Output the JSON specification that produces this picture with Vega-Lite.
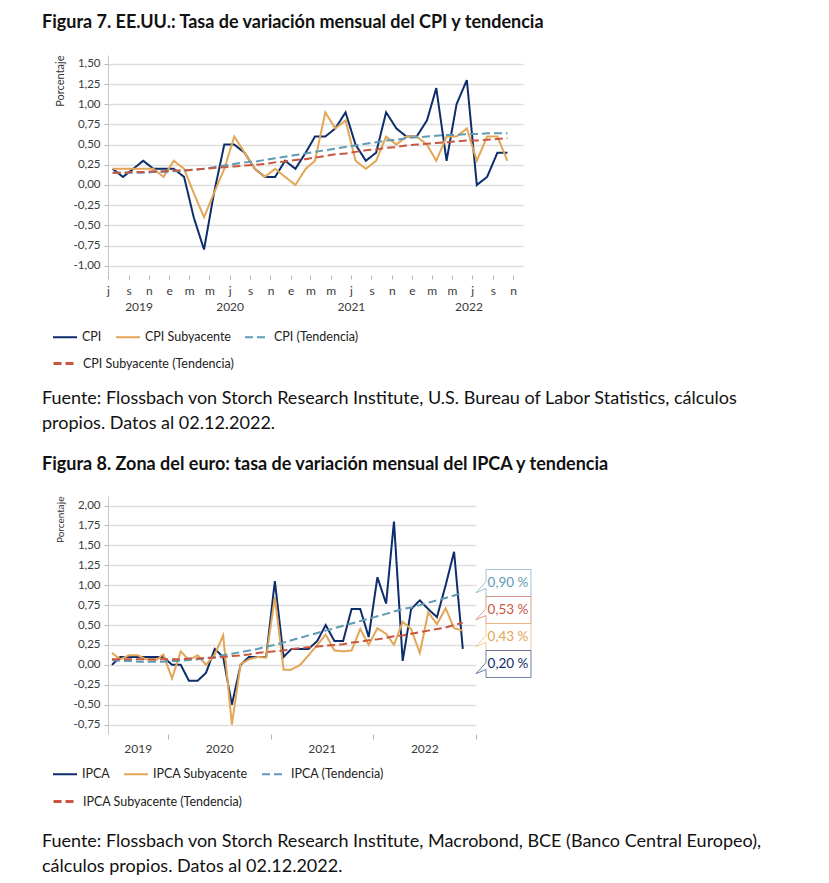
{
  "$schema": "https://vega.github.io/schema/vega-lite/v6.json",
  "background": "white",
  "padding": {"left": 42, "top": 14, "right": 5, "bottom": 5},
  "config": {
    "font": "Lato",
    "view": {"stroke": null},
    "axis": {"labelFont": "Lato", "labelFontSize": 11.5, "labelColor": "#3a3a3a", "tickColor": "#b5b5b5", "domainColor": "#c8c8c8", "gridColor": "#dedede", "gridWidth": 1.4, "titleFont": "Lato", "titleFontWeight": "normal", "titleFontSize": 11, "titleColor": "#333"},
    "legend": {"labelFont": "Lato", "labelFontSize": 12.5, "labelColor": "#222", "title": null, "orient": "none", "direction": "horizontal", "symbolType": "stroke", "symbolSize": 576, "columnPadding": 10, "labelOffset": 4, "symbolOpacity": 1},
    "title": {"font": "Lato"}
  },
  "datasets": {
    "us": [
      {"fecha": "2019-07-15", "CPI": 0.2, "CPI Subyacente": 0.2, "CPI (Tendencia)": 0.15, "CPI Subyacente (Tendencia)": 0.15},
      {"fecha": "2019-08-15", "CPI": 0.1, "CPI Subyacente": 0.2, "CPI (Tendencia)": 0.15, "CPI Subyacente (Tendencia)": 0.15},
      {"fecha": "2019-09-15", "CPI": 0.2, "CPI Subyacente": 0.2, "CPI (Tendencia)": 0.15, "CPI Subyacente (Tendencia)": 0.16},
      {"fecha": "2019-10-15", "CPI": 0.3, "CPI Subyacente": 0.2, "CPI (Tendencia)": 0.15, "CPI Subyacente (Tendencia)": 0.16},
      {"fecha": "2019-11-15", "CPI": 0.2, "CPI Subyacente": 0.2, "CPI (Tendencia)": 0.16, "CPI Subyacente (Tendencia)": 0.17},
      {"fecha": "2019-12-15", "CPI": 0.2, "CPI Subyacente": 0.1, "CPI (Tendencia)": 0.16, "CPI Subyacente (Tendencia)": 0.17},
      {"fecha": "2020-01-15", "CPI": 0.2, "CPI Subyacente": 0.3, "CPI (Tendencia)": 0.17, "CPI Subyacente (Tendencia)": 0.18},
      {"fecha": "2020-02-15", "CPI": 0.1, "CPI Subyacente": 0.2, "CPI (Tendencia)": 0.18, "CPI Subyacente (Tendencia)": 0.18},
      {"fecha": "2020-03-15", "CPI": -0.4, "CPI Subyacente": -0.1, "CPI (Tendencia)": 0.19, "CPI Subyacente (Tendencia)": 0.19},
      {"fecha": "2020-04-15", "CPI": -0.8, "CPI Subyacente": -0.4, "CPI (Tendencia)": 0.2, "CPI Subyacente (Tendencia)": 0.2},
      {"fecha": "2020-05-15", "CPI": -0.1, "CPI Subyacente": -0.1, "CPI (Tendencia)": 0.22, "CPI Subyacente (Tendencia)": 0.21},
      {"fecha": "2020-06-15", "CPI": 0.5, "CPI Subyacente": 0.2, "CPI (Tendencia)": 0.24, "CPI Subyacente (Tendencia)": 0.22},
      {"fecha": "2020-07-15", "CPI": 0.5, "CPI Subyacente": 0.6, "CPI (Tendencia)": 0.26, "CPI Subyacente (Tendencia)": 0.23},
      {"fecha": "2020-08-15", "CPI": 0.4, "CPI Subyacente": 0.4, "CPI (Tendencia)": 0.28, "CPI Subyacente (Tendencia)": 0.24},
      {"fecha": "2020-09-15", "CPI": 0.2, "CPI Subyacente": 0.2, "CPI (Tendencia)": 0.29, "CPI Subyacente (Tendencia)": 0.25},
      {"fecha": "2020-10-15", "CPI": 0.1, "CPI Subyacente": 0.1, "CPI (Tendencia)": 0.31, "CPI Subyacente (Tendencia)": 0.26},
      {"fecha": "2020-11-15", "CPI": 0.1, "CPI Subyacente": 0.2, "CPI (Tendencia)": 0.33, "CPI Subyacente (Tendencia)": 0.28},
      {"fecha": "2020-12-15", "CPI": 0.3, "CPI Subyacente": 0.1, "CPI (Tendencia)": 0.35, "CPI Subyacente (Tendencia)": 0.29},
      {"fecha": "2021-01-15", "CPI": 0.2, "CPI Subyacente": 0.0, "CPI (Tendencia)": 0.37, "CPI Subyacente (Tendencia)": 0.31},
      {"fecha": "2021-02-15", "CPI": 0.4, "CPI Subyacente": 0.2, "CPI (Tendencia)": 0.39, "CPI Subyacente (Tendencia)": 0.32},
      {"fecha": "2021-03-15", "CPI": 0.6, "CPI Subyacente": 0.3, "CPI (Tendencia)": 0.41, "CPI Subyacente (Tendencia)": 0.34},
      {"fecha": "2021-04-15", "CPI": 0.6, "CPI Subyacente": 0.9, "CPI (Tendencia)": 0.43, "CPI Subyacente (Tendencia)": 0.36},
      {"fecha": "2021-05-15", "CPI": 0.7, "CPI Subyacente": 0.7, "CPI (Tendencia)": 0.45, "CPI Subyacente (Tendencia)": 0.38},
      {"fecha": "2021-06-15", "CPI": 0.9, "CPI Subyacente": 0.8, "CPI (Tendencia)": 0.47, "CPI Subyacente (Tendencia)": 0.39},
      {"fecha": "2021-07-15", "CPI": 0.5, "CPI Subyacente": 0.3, "CPI (Tendencia)": 0.49, "CPI Subyacente (Tendencia)": 0.41},
      {"fecha": "2021-08-15", "CPI": 0.3, "CPI Subyacente": 0.2, "CPI (Tendencia)": 0.51, "CPI Subyacente (Tendencia)": 0.43},
      {"fecha": "2021-09-15", "CPI": 0.4, "CPI Subyacente": 0.3, "CPI (Tendencia)": 0.53, "CPI Subyacente (Tendencia)": 0.44},
      {"fecha": "2021-10-15", "CPI": 0.9, "CPI Subyacente": 0.6, "CPI (Tendencia)": 0.55, "CPI Subyacente (Tendencia)": 0.46},
      {"fecha": "2021-11-15", "CPI": 0.7, "CPI Subyacente": 0.5, "CPI (Tendencia)": 0.56, "CPI Subyacente (Tendencia)": 0.47},
      {"fecha": "2021-12-15", "CPI": 0.6, "CPI Subyacente": 0.6, "CPI (Tendencia)": 0.58, "CPI Subyacente (Tendencia)": 0.49},
      {"fecha": "2022-01-15", "CPI": 0.6, "CPI Subyacente": 0.6, "CPI (Tendencia)": 0.59, "CPI Subyacente (Tendencia)": 0.5},
      {"fecha": "2022-02-15", "CPI": 0.8, "CPI Subyacente": 0.5, "CPI (Tendencia)": 0.6, "CPI Subyacente (Tendencia)": 0.51},
      {"fecha": "2022-03-15", "CPI": 1.2, "CPI Subyacente": 0.3, "CPI (Tendencia)": 0.61, "CPI Subyacente (Tendencia)": 0.52},
      {"fecha": "2022-04-15", "CPI": 0.3, "CPI Subyacente": 0.6, "CPI (Tendencia)": 0.62, "CPI Subyacente (Tendencia)": 0.53},
      {"fecha": "2022-05-15", "CPI": 1.0, "CPI Subyacente": 0.6, "CPI (Tendencia)": 0.62, "CPI Subyacente (Tendencia)": 0.54},
      {"fecha": "2022-06-15", "CPI": 1.3, "CPI Subyacente": 0.7, "CPI (Tendencia)": 0.63, "CPI Subyacente (Tendencia)": 0.55},
      {"fecha": "2022-07-15", "CPI": 0.0, "CPI Subyacente": 0.3, "CPI (Tendencia)": 0.63, "CPI Subyacente (Tendencia)": 0.55},
      {"fecha": "2022-08-15", "CPI": 0.1, "CPI Subyacente": 0.6, "CPI (Tendencia)": 0.64, "CPI Subyacente (Tendencia)": 0.56},
      {"fecha": "2022-09-15", "CPI": 0.4, "CPI Subyacente": 0.6, "CPI (Tendencia)": 0.64, "CPI Subyacente (Tendencia)": 0.57},
      {"fecha": "2022-10-15", "CPI": 0.4, "CPI Subyacente": 0.3, "CPI (Tendencia)": 0.64, "CPI Subyacente (Tendencia)": 0.58}
    ],
    "eu": [
      {"fecha": "2019-06-15", "IPCA": 0.0, "IPCA Subyacente": 0.15, "IPCA (Tendencia)": 0.06, "IPCA Subyacente (Tendencia)": 0.07},
      {"fecha": "2019-07-15", "IPCA": 0.1, "IPCA Subyacente": 0.07, "IPCA (Tendencia)": 0.05, "IPCA Subyacente (Tendencia)": 0.07},
      {"fecha": "2019-08-15", "IPCA": 0.1, "IPCA Subyacente": 0.12, "IPCA (Tendencia)": 0.05, "IPCA Subyacente (Tendencia)": 0.07},
      {"fecha": "2019-09-15", "IPCA": 0.1, "IPCA Subyacente": 0.12, "IPCA (Tendencia)": 0.04, "IPCA Subyacente (Tendencia)": 0.07},
      {"fecha": "2019-10-15", "IPCA": 0.1, "IPCA Subyacente": 0.07, "IPCA (Tendencia)": 0.04, "IPCA Subyacente (Tendencia)": 0.07},
      {"fecha": "2019-11-15", "IPCA": 0.1, "IPCA Subyacente": 0.05, "IPCA (Tendencia)": 0.04, "IPCA Subyacente (Tendencia)": 0.07},
      {"fecha": "2019-12-15", "IPCA": 0.1, "IPCA Subyacente": 0.13, "IPCA (Tendencia)": 0.04, "IPCA Subyacente (Tendencia)": 0.07},
      {"fecha": "2020-01-15", "IPCA": 0.0, "IPCA Subyacente": -0.17, "IPCA (Tendencia)": 0.05, "IPCA Subyacente (Tendencia)": 0.07},
      {"fecha": "2020-02-15", "IPCA": 0.0, "IPCA Subyacente": 0.17, "IPCA (Tendencia)": 0.05, "IPCA Subyacente (Tendencia)": 0.07},
      {"fecha": "2020-03-15", "IPCA": -0.2, "IPCA Subyacente": 0.06, "IPCA (Tendencia)": 0.06, "IPCA Subyacente (Tendencia)": 0.08},
      {"fecha": "2020-04-15", "IPCA": -0.2, "IPCA Subyacente": 0.12, "IPCA (Tendencia)": 0.07, "IPCA Subyacente (Tendencia)": 0.08},
      {"fecha": "2020-05-15", "IPCA": -0.1, "IPCA Subyacente": 0.0, "IPCA (Tendencia)": 0.08, "IPCA Subyacente (Tendencia)": 0.09},
      {"fecha": "2020-06-15", "IPCA": 0.2, "IPCA Subyacente": 0.13, "IPCA (Tendencia)": 0.1, "IPCA Subyacente (Tendencia)": 0.09},
      {"fecha": "2020-07-15", "IPCA": 0.1, "IPCA Subyacente": 0.37, "IPCA (Tendencia)": 0.12, "IPCA Subyacente (Tendencia)": 0.1},
      {"fecha": "2020-08-15", "IPCA": -0.5, "IPCA Subyacente": -0.75, "IPCA (Tendencia)": 0.14, "IPCA Subyacente (Tendencia)": 0.11},
      {"fecha": "2020-09-15", "IPCA": 0.0, "IPCA Subyacente": 0.01, "IPCA (Tendencia)": 0.16, "IPCA Subyacente (Tendencia)": 0.12},
      {"fecha": "2020-10-15", "IPCA": 0.1, "IPCA Subyacente": 0.07, "IPCA (Tendencia)": 0.18, "IPCA Subyacente (Tendencia)": 0.13},
      {"fecha": "2020-11-15", "IPCA": 0.1, "IPCA Subyacente": 0.1, "IPCA (Tendencia)": 0.2, "IPCA Subyacente (Tendencia)": 0.15},
      {"fecha": "2020-12-15", "IPCA": 0.1, "IPCA Subyacente": 0.09, "IPCA (Tendencia)": 0.23, "IPCA Subyacente (Tendencia)": 0.16},
      {"fecha": "2021-01-15", "IPCA": 1.05, "IPCA Subyacente": 0.85, "IPCA (Tendencia)": 0.25, "IPCA Subyacente (Tendencia)": 0.17},
      {"fecha": "2021-02-15", "IPCA": 0.1, "IPCA Subyacente": -0.06, "IPCA (Tendencia)": 0.28, "IPCA Subyacente (Tendencia)": 0.18},
      {"fecha": "2021-03-15", "IPCA": 0.2, "IPCA Subyacente": -0.06, "IPCA (Tendencia)": 0.31, "IPCA Subyacente (Tendencia)": 0.2},
      {"fecha": "2021-04-15", "IPCA": 0.2, "IPCA Subyacente": 0.0, "IPCA (Tendencia)": 0.34, "IPCA Subyacente (Tendencia)": 0.21},
      {"fecha": "2021-05-15", "IPCA": 0.2, "IPCA Subyacente": 0.12, "IPCA (Tendencia)": 0.37, "IPCA Subyacente (Tendencia)": 0.22},
      {"fecha": "2021-06-15", "IPCA": 0.3, "IPCA Subyacente": 0.25, "IPCA (Tendencia)": 0.4, "IPCA Subyacente (Tendencia)": 0.23},
      {"fecha": "2021-07-15", "IPCA": 0.5, "IPCA Subyacente": 0.38, "IPCA (Tendencia)": 0.43, "IPCA Subyacente (Tendencia)": 0.24},
      {"fecha": "2021-08-15", "IPCA": 0.3, "IPCA Subyacente": 0.18, "IPCA (Tendencia)": 0.46, "IPCA Subyacente (Tendencia)": 0.25},
      {"fecha": "2021-09-15", "IPCA": 0.3, "IPCA Subyacente": 0.17, "IPCA (Tendencia)": 0.49, "IPCA Subyacente (Tendencia)": 0.26},
      {"fecha": "2021-10-15", "IPCA": 0.7, "IPCA Subyacente": 0.18, "IPCA (Tendencia)": 0.52, "IPCA Subyacente (Tendencia)": 0.28},
      {"fecha": "2021-11-15", "IPCA": 0.7, "IPCA Subyacente": 0.45, "IPCA (Tendencia)": 0.55, "IPCA Subyacente (Tendencia)": 0.29},
      {"fecha": "2021-12-15", "IPCA": 0.35, "IPCA Subyacente": 0.25, "IPCA (Tendencia)": 0.58, "IPCA Subyacente (Tendencia)": 0.31},
      {"fecha": "2022-01-15", "IPCA": 1.1, "IPCA Subyacente": 0.46, "IPCA (Tendencia)": 0.61, "IPCA Subyacente (Tendencia)": 0.32},
      {"fecha": "2022-02-15", "IPCA": 0.77, "IPCA Subyacente": 0.39, "IPCA (Tendencia)": 0.64, "IPCA Subyacente (Tendencia)": 0.34},
      {"fecha": "2022-03-15", "IPCA": 1.8, "IPCA Subyacente": 0.25, "IPCA (Tendencia)": 0.67, "IPCA Subyacente (Tendencia)": 0.36},
      {"fecha": "2022-04-15", "IPCA": 0.05, "IPCA Subyacente": 0.54, "IPCA (Tendencia)": 0.7, "IPCA Subyacente (Tendencia)": 0.37},
      {"fecha": "2022-05-15", "IPCA": 0.7, "IPCA Subyacente": 0.45, "IPCA (Tendencia)": 0.72, "IPCA Subyacente (Tendencia)": 0.39},
      {"fecha": "2022-06-15", "IPCA": 0.81, "IPCA Subyacente": 0.15, "IPCA (Tendencia)": 0.75, "IPCA Subyacente (Tendencia)": 0.41},
      {"fecha": "2022-07-15", "IPCA": 0.7, "IPCA Subyacente": 0.66, "IPCA (Tendencia)": 0.78, "IPCA Subyacente (Tendencia)": 0.43},
      {"fecha": "2022-08-15", "IPCA": 0.6, "IPCA Subyacente": 0.51, "IPCA (Tendencia)": 0.81, "IPCA Subyacente (Tendencia)": 0.45},
      {"fecha": "2022-09-15", "IPCA": 1.0, "IPCA Subyacente": 0.71, "IPCA (Tendencia)": 0.84, "IPCA Subyacente (Tendencia)": 0.47},
      {"fecha": "2022-10-15", "IPCA": 1.42, "IPCA Subyacente": 0.46, "IPCA (Tendencia)": 0.87, "IPCA Subyacente (Tendencia)": 0.5},
      {"fecha": "2022-11-15", "IPCA": 0.2, "IPCA Subyacente": 0.43, "IPCA (Tendencia)": 0.9, "IPCA Subyacente (Tendencia)": 0.53}
    ],
    "eu_labels": [
      {"serie": "IPCA (Tendencia)", "valor": 0.9},
      {"serie": "IPCA Subyacente (Tendencia)", "valor": 0.53},
      {"serie": "IPCA Subyacente", "valor": 0.43},
      {"serie": "IPCA", "valor": 0.2}
    ]
  },
  "title": {
    "text": ["Fuente: Flossbach von Storch Research Institute, Macrobond, BCE (Banco Central Europeo),", "cálculos propios. Datos al 02.12.2022."],
    "orient": "bottom", "anchor": "start", "frame": "group", "dx": -66,
    "fontSize": 18, "fontWeight": "normal", "lineHeight": 25, "color": "#111", "offset": 25
  },
  "spacing": 20,
  "resolve": {
    "scale": {"color": "independent", "strokeDash": "independent", "strokeWidth": "independent", "stroke": "independent"},
    "legend": {"color": "independent", "strokeDash": "independent", "strokeWidth": "independent", "stroke": "independent"}
  },
  "vconcat": [
    {
      "width": 415,
      "height": 220,
      "title": {
        "text": "Figura 7. EE.UU.: Tasa de variación mensual del CPI y tendencia",
        "anchor": "start", "frame": "group", "dx": -66,
        "fontSize": 18, "fontWeight": "bold", "color": "#111", "offset": 23
      },
      "data": {"name": "us"},
      "transform": [{"fold": ["CPI", "CPI Subyacente", "CPI (Tendencia)", "CPI Subyacente (Tendencia)"], "as": ["serie", "valor"]}],
      "resolve": {"axis": {"x": "independent"}},
      "layer": [
        {
          "mark": {"type": "line", "strokeCap": "butt"},
          "encoding": {
            "x": {
              "field": "fecha", "type": "temporal",
              "scale": {"domain": [{"year": 2019, "month": 7, "date": 1, "utc": true}, {"year": 2022, "month": 12, "date": 1, "utc": true}]},
              "axis": {
                "orient": "bottom", "title": null, "grid": false, "domain": false, "tickSize": 4, "labelPadding": 6, "labelFontSize": 12,
                "labelOverlap": false, "labelFlush": false,
                "values": [
                  {"year": 2019, "month": 7, "date": 1, "utc": true}, {"year": 2019, "month": 9, "date": 1, "utc": true}, {"year": 2019, "month": 11, "date": 1, "utc": true},
                  {"year": 2020, "month": 1, "date": 1, "utc": true}, {"year": 2020, "month": 3, "date": 1, "utc": true}, {"year": 2020, "month": 5, "date": 1, "utc": true},
                  {"year": 2020, "month": 7, "date": 1, "utc": true}, {"year": 2020, "month": 9, "date": 1, "utc": true}, {"year": 2020, "month": 11, "date": 1, "utc": true},
                  {"year": 2021, "month": 1, "date": 1, "utc": true}, {"year": 2021, "month": 3, "date": 1, "utc": true}, {"year": 2021, "month": 5, "date": 1, "utc": true},
                  {"year": 2021, "month": 7, "date": 1, "utc": true}, {"year": 2021, "month": 9, "date": 1, "utc": true}, {"year": 2021, "month": 11, "date": 1, "utc": true},
                  {"year": 2022, "month": 1, "date": 1, "utc": true}, {"year": 2022, "month": 3, "date": 1, "utc": true}, {"year": 2022, "month": 5, "date": 1, "utc": true},
                  {"year": 2022, "month": 7, "date": 1, "utc": true}, {"year": 2022, "month": 9, "date": 1, "utc": true}, {"year": 2022, "month": 11, "date": 1, "utc": true}
                ],
                "labelExpr": "['e','f','m','a','m','j','j','a','s','o','n','d'][utcmonth(datum.value)]"
              }
            },
            "y": {
              "field": "valor", "type": "quantitative",
              "scale": {"domain": [-1.115, 1.61], "nice": false, "zero": false},
              "axis": {
                "title": "Porcentaje", "titleAnchor": "end", "titlePadding": 8, "titleFontSize": 11,
                "values": [-1, -0.75, -0.5, -0.25, 0, 0.25, 0.5, 0.75, 1, 1.25, 1.5],
                "labelExpr": "(datum.value < 0 ? '-' : '') + replace(format(abs(datum.value), '.2f'), '.', ',')",
                "grid": true, "domain": true, "ticks": true, "tickSize": 4, "labelPadding": 4
              }
            },
            "color": {
              "field": "serie", "type": "nominal",
              "scale": {"domain": ["CPI", "CPI Subyacente", "CPI (Tendencia)", "CPI Subyacente (Tendencia)"], "range": ["#0d2d6c", "#e2a655", "#5e9bb5", "#c9573f"]},
              "legend": {"orient": "none", "legendX": -56, "legendY": 269, "values": ["CPI", "CPI Subyacente", "CPI (Tendencia)"]}
            },
            "strokeDash": {
              "field": "serie", "type": "nominal",
              "scale": {"domain": ["CPI", "CPI Subyacente", "CPI (Tendencia)", "CPI Subyacente (Tendencia)"], "range": [[1, 0], [1, 0], [8, 4], [8, 4]]},
              "legend": {"orient": "none", "legendX": -56, "legendY": 269, "values": ["CPI", "CPI Subyacente", "CPI (Tendencia)"]}
            },
            "strokeWidth": {
              "field": "serie", "type": "nominal",
              "scale": {"domain": ["CPI", "CPI Subyacente", "CPI (Tendencia)", "CPI Subyacente (Tendencia)"], "range": [2, 2, 3, 3]},
              "legend": {"orient": "none", "legendX": -56, "legendY": 269, "values": ["CPI", "CPI Subyacente", "CPI (Tendencia)"]}
            }
          }
        },
        {
          "transform": [{"filter": "datum.serie == 'CPI Subyacente (Tendencia)'"}],
          "mark": {"type": "point", "opacity": 0},
          "encoding": {
            "x": {
              "field": "fecha", "type": "temporal",
              "axis": {
                "orient": "bottom", "title": null, "grid": false, "domain": false, "ticks": false, "labelPadding": 26, "labelFontSize": 12,
                "labelOverlap": false, "labelFlush": false,
                "values": [{"year": 2019, "month": 10, "date": 1, "utc": true}, {"year": 2020, "month": 7, "date": 1, "utc": true}, {"year": 2021, "month": 7, "date": 1, "utc": true}, {"year": 2022, "month": 6, "date": 20, "utc": true}],
                "labelExpr": "utcyear(datum.value)"
              }
            },
            "stroke": {
              "field": "serie", "type": "nominal",
              "scale": {"domain": ["CPI Subyacente (Tendencia)"], "range": ["#c9573f"]},
              "legend": {"orient": "none", "legendX": -56, "legendY": 295, "symbolType": "stroke", "symbolDash": [8, 4], "symbolStrokeWidth": 3, "symbolOpacity": 1, "symbolSize": 576}
            }
          }
        }
      ]
    },
    {
      "width": 368,
      "height": 238,
      "title": {
        "text": ["Fuente: Flossbach von Storch Research Institute, U.S. Bureau of Labor Statistics, cálculos", "propios. Datos al 02.12.2022."],
        "subtitle": "Figura 8. Zona del euro: tasa de variación mensual del IPCA y tendencia",
        "anchor": "start", "frame": "group", "dx": -66,
        "fontSize": 18, "fontWeight": "normal", "lineHeight": 25, "color": "#111",
        "subtitleFont": "Lato", "subtitleFontSize": 18, "subtitleFontWeight": "bold", "subtitleColor": "#111", "subtitlePadding": 23,
        "offset": 22
      },
      "resolve": {"scale": {"y": "independent"}, "axis": {"x": "independent", "y": "independent"}},
      "layer": [
        {
          "data": {"name": "eu"},
          "transform": [{"fold": ["IPCA", "IPCA Subyacente", "IPCA (Tendencia)", "IPCA Subyacente (Tendencia)"], "as": ["serie", "valor"]}],
          "mark": {"type": "line", "strokeCap": "butt"},
          "encoding": {
            "x": {
              "field": "fecha", "type": "temporal",
              "scale": {"domain": [{"year": 2019, "month": 6, "date": 1, "utc": true}, {"year": 2023, "month": 1, "date": 1, "utc": true}]},
              "axis": {
                "orient": "bottom", "title": null, "grid": false, "domain": false, "labels": false, "tickSize": 5,
                "values": [{"year": 2020, "month": 1, "date": 1, "utc": true}, {"year": 2021, "month": 1, "date": 1, "utc": true}, {"year": 2022, "month": 1, "date": 1, "utc": true}, {"year": 2023, "month": 1, "date": 1, "utc": true}]
              }
            },
            "y": {
              "field": "valor", "type": "quantitative",
              "scale": {"domain": [-0.868, 2.12], "nice": false, "zero": false},
              "axis": {
                "title": "Porcentaje", "titleAnchor": "end", "titlePadding": 8, "titleFontSize": 10,
                "values": [-0.75, -0.5, -0.25, 0, 0.25, 0.5, 0.75, 1, 1.25, 1.5, 1.75, 2],
                "labelExpr": "(datum.value < 0 ? '-' : '') + replace(format(abs(datum.value), '.2f'), '.', ',')",
                "grid": true, "domain": true, "ticks": true, "tickSize": 4, "labelPadding": 4
              }
            },
            "color": {
              "field": "serie", "type": "nominal",
              "scale": {"domain": ["IPCA", "IPCA Subyacente", "IPCA (Tendencia)", "IPCA Subyacente (Tendencia)"], "range": ["#0d2d6c", "#e2a655", "#5e9bb5", "#c9573f"]},
              "legend": {"orient": "none", "legendX": -56, "legendY": 265, "values": ["IPCA", "IPCA Subyacente", "IPCA (Tendencia)"]}
            },
            "strokeDash": {
              "field": "serie", "type": "nominal",
              "scale": {"domain": ["IPCA", "IPCA Subyacente", "IPCA (Tendencia)", "IPCA Subyacente (Tendencia)"], "range": [[1, 0], [1, 0], [8, 4], [8, 4]]},
              "legend": {"orient": "none", "legendX": -56, "legendY": 265, "values": ["IPCA", "IPCA Subyacente", "IPCA (Tendencia)"]}
            },
            "strokeWidth": {
              "field": "serie", "type": "nominal",
              "scale": {"domain": ["IPCA", "IPCA Subyacente", "IPCA (Tendencia)", "IPCA Subyacente (Tendencia)"], "range": [2, 2, 3, 3]},
              "legend": {"orient": "none", "legendX": -56, "legendY": 265, "values": ["IPCA", "IPCA Subyacente", "IPCA (Tendencia)"]}
            }
          }
        },
        {
          "data": {"name": "eu"},
          "transform": [{"fold": ["IPCA Subyacente (Tendencia)"], "as": ["serie", "valor"]}],
          "mark": {"type": "point", "opacity": 0},
          "encoding": {
            "x": {
              "field": "fecha", "type": "temporal",
              "axis": {
                "orient": "bottom", "title": null, "grid": false, "domain": false, "ticks": false, "labelPadding": 9, "labelFontSize": 12,
                "labelOverlap": false, "labelFlush": false,
                "values": [{"year": 2019, "month": 9, "date": 15, "utc": true}, {"year": 2020, "month": 7, "date": 1, "utc": true}, {"year": 2021, "month": 7, "date": 1, "utc": true}, {"year": 2022, "month": 7, "date": 1, "utc": true}],
                "labelExpr": "utcyear(datum.value)"
              }
            },
            "stroke": {
              "field": "serie", "type": "nominal",
              "scale": {"domain": ["IPCA Subyacente (Tendencia)"], "range": ["#c9573f"]},
              "legend": {"orient": "none", "legendX": -56, "legendY": 292, "symbolType": "stroke", "symbolDash": [8, 4], "symbolStrokeWidth": 3, "symbolOpacity": 1, "symbolSize": 576}
            }
          }
        },
        {
          "data": {"name": "eu_labels"},
          "transform": [{"calculate": "replace(format(datum.valor, '.2f'), '.', ',') + ' %'", "as": "etiqueta"}],
          "encoding": {
            "x": {"datum": {"year": 2023, "month": 1, "date": 1, "utc": true}, "type": "temporal", "axis": null},
            "y": {
              "field": "serie", "type": "nominal", "axis": null,
              "scale": {"type": "point", "domain": ["IPCA (Tendencia)", "IPCA Subyacente (Tendencia)", "IPCA Subyacente", "IPCA"], "range": [87, 168], "padding": 0}
            },
            "color": {
              "field": "serie", "type": "nominal", "legend": null,
              "scale": {"domain": ["IPCA", "IPCA Subyacente", "IPCA (Tendencia)", "IPCA Subyacente (Tendencia)"], "range": ["#0d2d6c", "#e2a655", "#5e9bb5", "#c9573f"]}
            }
          },
          "layer": [
            {"mark": {"type": "point", "shape": "M0.364 -0.49 H2 V0.49 H0.364 V0.2 L0 0.35 L0.364 -0.05 Z", "size": 3025, "filled": false, "fill": "white", "fillOpacity": 1, "strokeWidth": 1, "strokeOpacity": 0.6, "opacity": 1}},
            {"mark": {"type": "text", "dx": 32, "fontSize": 13.5, "align": "center", "baseline": "middle", "font": "Lato"}, "encoding": {"text": {"field": "etiqueta"}}}
          ]
        }
      ]
    }
  ]
}
